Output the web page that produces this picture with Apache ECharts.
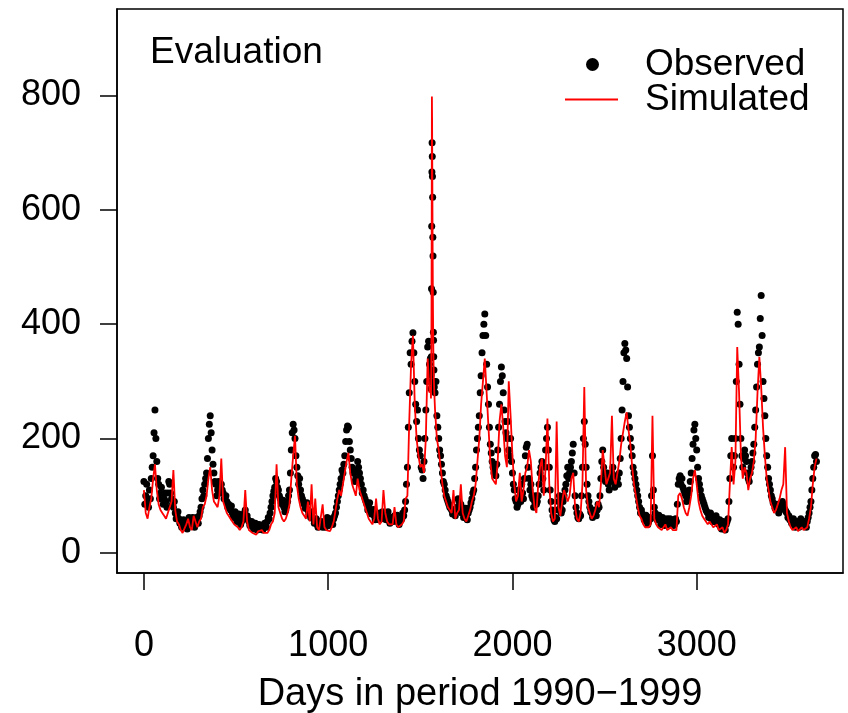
<!DOCTYPE html>
<html>
<head>
<meta charset="utf-8">
<script src="https://cdn.jsdelivr.net/npm/echarts@6/dist/echarts.min.js"></script>
<style>html,body{margin:0;padding:0;background:#fff;overflow:hidden;}#c{width:848px;height:713px;}</style>
</head>
<body>
<div id="c"></div>
<script>
// Sampling step (days) of the main grid
const gridStep = 10;
// Observed discharge, days 0,10,...,3650
const obsGrid = [
125,100,90,110,130,170,250,160,120,105,
100,95,90,105,120,95,80,70,65,60,
55,50,45,50,55,60,55,50,55,60,
65,80,110,120,140,200,240,180,140,120,
110,115,120,105,95,90,85,75,70,65,
65,60,58,55,60,75,65,55,50,48,
45,50,45,42,48,45,50,55,60,80,
100,115,125,110,95,85,80,75,90,110,
180,225,200,150,120,110,95,85,80,75,
70,65,60,55,50,55,50,45,50,55,
55,50,55,60,70,90,110,130,140,170,
215,220,180,150,140,130,160,140,120,110,
95,85,80,75,70,65,60,65,70,65,
60,70,65,60,55,60,65,60,55,55,
60,65,90,150,280,330,385,300,230,200,
170,145,160,250,360,330,300,400,280,240,
200,170,140,120,100,90,80,75,70,65,
80,90,85,75,70,65,70,80,95,110,
150,200,240,310,380,418,330,260,190,160,
140,135,180,260,325,280,230,200,180,200,
140,110,90,85,100,120,95,170,190,130,
120,95,90,85,100,140,160,110,180,220,
150,90,65,55,60,90,80,75,100,120,
150,140,160,190,100,70,60,65,150,230,
150,100,80,70,65,70,75,80,130,180,
140,130,120,125,140,130,120,130,140,200,
300,366,340,240,200,170,140,120,100,80,
75,65,60,55,55,60,170,80,65,60,
60,55,55,50,60,55,50,55,50,55,
120,135,130,110,100,95,110,140,190,225,
180,130,110,95,85,75,70,65,60,55,
55,60,50,45,50,45,50,60,130,200,
150,200,421,330,200,150,180,160,130,140,
160,190,250,330,360,450,300,240,170,130,
110,95,85,80,78,75,80,85,75,70,
65,60,55,50,48,50,55,52,48,50,
55,70,90,130,170,160
];
const obsMid = [
85,120,80,95,150,210,200,130,95,115,
85,105,80,125,105,85,90,60,72,52,
45,58,52,42,62,50,62,45,62,52,
72,95,100,130,165,225,210,155,125,100,
125,105,110,95,100,80,78,82,62,72,
55,68,50,62,70,62,58,48,55,42,
52,40,50,48,40,52,45,62,70,90,
108,130,115,100,88,92,72,82,100,140,
210,215,170,135,130,100,90,78,88,68,
62,72,52,60,45,48,55,52,45,62,
48,60,50,65,80,100,120,145,155,195,
222,195,165,140,125,145,150,130,105,100,
90,75,88,68,76,58,68,58,62,72,
65,58,72,52,62,55,58,66,50,62,
70,75,120,220,350,370,350,260,250,180,
150,130,200,300,370,340,600,300,300,220,
180,155,125,110,95,85,78,68,75,72,
95,78,70,62,78,58,75,88,105,130,
180,220,280,350,400,380,290,220,175,150,
150,155,220,300,310,250,210,230,170,160,
120,95,80,110,90,105,130,185,150,110,
100,80,100,90,120,150,130,150,200,180,
110,75,58,62,75,100,70,90,110,135,
130,150,175,140,80,62,68,100,200,190,
120,90,72,62,75,65,85,100,160,150,
125,140,110,135,150,115,135,120,165,250,
350,355,290,220,185,150,130,110,90,70,
68,58,66,50,62,100,110,70,58,66,
50,62,48,58,50,60,58,48,60,85,
130,120,115,105,90,105,125,165,215,200,
150,120,100,90,80,72,62,70,55,62,
65,52,58,42,55,40,55,90,170,170,
170,300,400,260,170,165,170,140,125,150,
175,220,290,350,410,380,270,200,150,120,
100,88,78,85,70,80,90,78,72,62,
58,52,60,45,55,45,60,48,55,45,
62,80,110,150,172
];
// Simulated discharge, days 0,10,...,3650
const simGrid = [
110,70,60,80,95,130,155,110,85,75,
70,65,60,70,80,90,145,75,55,50,
40,35,38,50,60,45,40,65,55,45,
55,60,80,85,100,130,150,110,90,85,
80,100,165,90,80,70,65,60,55,50,
50,45,40,45,55,110,55,40,38,35,
35,32,38,35,40,35,32,35,40,50,
55,70,155,80,70,60,55,60,70,85,
130,170,205,120,95,80,70,65,60,90,
55,120,50,95,45,40,40,85,45,40,
40,38,45,55,75,95,110,100,120,140,
160,175,140,120,110,100,130,110,100,90,
80,70,60,55,50,60,95,60,50,55,
110,70,55,50,48,50,80,50,45,48,
50,55,95,100,230,330,380,260,200,170,
150,155,140,200,340,280,300,380,250,200,
180,150,120,100,90,80,75,70,110,60,
70,75,120,70,60,55,65,75,90,100,
120,160,200,260,300,340,280,220,160,130,
130,120,160,230,260,220,170,150,300,240,
170,120,90,100,140,90,110,140,150,180,
160,110,80,70,120,150,165,100,150,235,
120,70,55,60,230,80,65,90,110,100,
90,100,130,140,80,60,55,70,120,290,
110,80,70,60,65,75,90,80,120,180,
150,120,130,140,240,130,120,140,160,190,
210,230,246,215,190,150,120,100,80,65,
60,50,45,42,45,50,240,60,50,45,
45,40,38,50,40,38,45,40,37,40,
100,105,95,80,70,65,80,100,130,145,
120,90,75,65,60,55,50,55,50,45,
45,50,40,38,45,35,40,50,120,185,
120,160,360,280,170,130,150,140,110,130,
140,160,200,280,343,290,220,170,130,110,
90,80,70,75,85,95,110,120,185,70,
55,45,40,42,45,38,40,45,40,38,
45,60,80,120,150,165
];
// Daily detail around the large flood peak
const peakDays = [1556,1557,1558,1559,1560,1561,1562,1563,1564,1565,1566,1567,1568,1569,1570,1571,1572,1573,1574,1575,1576];
const peakObs  = [320,300,287,311,343,462,571,666,717,693,658,622,552,519,456,386,372,343,320,300,290];
const peakSim  = [290,280,270,300,350,450,600,798,760,680,600,530,470,420,380,350,330,310,300,290,280];

const xTicks = [0, 1000, 2000, 3000];
const yTicks = [0, 200, 400, 600, 800];

function merge(lists, peak) {
  const out = [];
  const lo = peakDays[0], hi = peakDays[peakDays.length - 1];
  lists.forEach(([arr, offset]) => arr.forEach((v, i) => {
    const d = i * gridStep + offset;
    if (d < lo || d > hi) out.push([d, v]);
  }));
  peakDays.forEach((d, i) => out.push([d, peak[i]]));
  out.sort((a, b) => a[0] - b[0]);
  return out;
}
const obsData = merge([[obsGrid, 0], [obsMid, 5]], peakObs);
const simData = merge([[simGrid, 0]], peakSim);

const FONT = "'Liberation Sans', Arial, Helvetica, sans-serif";
const chart = echarts.init(document.getElementById('c'), null, {renderer: 'canvas'});
chart.setOption({
  animation: false,
  backgroundColor: '#fff',
  title: {
    text: 'Evaluation', left: 150, top: 34, padding: 0,
    textStyle: {fontFamily: FONT, fontSize: 37, fontWeight: 'normal', color: '#000'}
  },
  legend: [
    {orient: 'vertical', left: 586, top: 46, padding: 0, itemWidth: 13, itemHeight: 13,
     icon: 'circle', data: ['Observed'], selectedMode: false,
     textStyle: {fontFamily: FONT, fontSize: 37, color: '#000', lineHeight: 30, padding: [0, 0, 0, 41]}},
    {orient: 'vertical', left: 565, top: 81, padding: 0, itemWidth: 53, itemHeight: 2,
     icon: 'rect', data: ['Simulated'], selectedMode: false,
     textStyle: {fontFamily: FONT, fontSize: 37, color: '#000', lineHeight: 30, padding: [0, 0, 0, 22]}}
  ],
  grid: {left: 117, right: 5, top: 9, bottom: 140, show: true, borderColor: '#000', borderWidth: 1.5,
         containLabel: false, outerBoundsMode: 'none'},
  xAxis: {
    type: 'value', min: -146, max: 3794,
    name: 'Days in period 1990\u22121999', nameLocation: 'middle', nameGap: 103,
    nameTextStyle: {fontFamily: FONT, fontSize: 38, color: '#000'},
    axisLine: {show: true, onZero: false, lineStyle: {color: '#000', width: 1.5}},
    axisTick: {show: true, inside: false, length: 17, customValues: xTicks, lineStyle: {color: '#000', width: 1.5}},
    axisLabel: {customValues: xTicks, margin: 55, fontFamily: FONT, fontSize: 36, color: '#000',
                formatter: v => String(v)},
    splitLine: {show: false}
  },
  yAxis: {
    type: 'value', min: -35, max: 951,
    axisLine: {show: true, onZero: false, lineStyle: {color: '#000', width: 1.5}},
    axisTick: {show: true, inside: false, length: 17, customValues: yTicks, lineStyle: {color: '#000', width: 1.5}},
    axisLabel: {customValues: yTicks, margin: 36, fontFamily: FONT, fontSize: 36, color: '#000',
                formatter: v => String(v)},
    splitLine: {show: false}
  },
  series: [
    {name: 'Observed', type: 'scatter', data: obsData, symbol: 'circle', symbolSize: 7,
     itemStyle: {color: '#000', opacity: 1}, z: 2},
    {name: 'Simulated', type: 'line', data: simData, showSymbol: false, symbol: 'none',
     lineStyle: {color: '#ff0000', width: 1.8}, itemStyle: {color: '#ff0000'}, z: 3}
  ]
});
</script>
</body>
</html>
